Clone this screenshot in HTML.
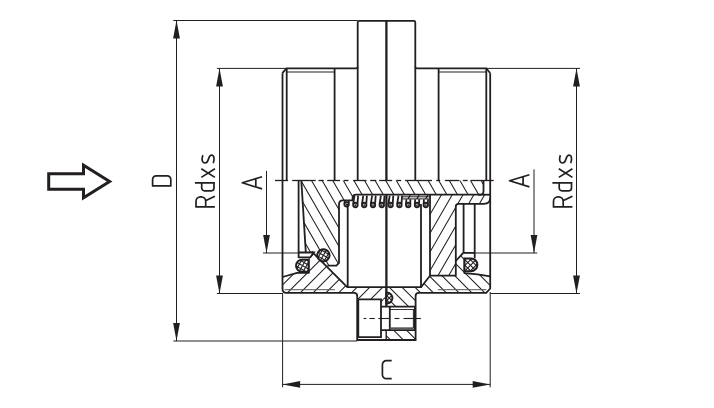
<!DOCTYPE html>
<html><head><meta charset="utf-8"><title>Valve drawing</title>
<style>html,body{margin:0;padding:0;background:#fff;width:714px;height:408px;overflow:hidden;font-family:"Liberation Sans",sans-serif} svg{display:block}</style>
</head><body>
<svg width="714" height="408" viewBox="0 0 714 408">
<defs>
<clipPath id="c1"><path d="M301.3,180.5 H483.5 V191.2 Q483.5,194.7 480,194.7 H356 Q352.6,194.7 352.6,198 V200.4 H343 Q339,200.4 339,204.4 V263 L336.4,265.6 H327.4 L316,252.5 H305.8 L305,245 Z"/></clipPath>
<clipPath id="c2"><path d="M430,194.7 H488 Q490.2,194.7 490.2,198 Q490.2,203.8 484,203.8 H458.5 Q455.8,203.8 455.8,206.5 V275.7 H430 Z"/></clipPath>
<clipPath id="c3"><path d="M282.5,277 L297,272.8 H308.6 V259 L313,253.8 L347.2,287.2 H386.2 V299.4 H357.2 V292.8 H286.5 L282.5,288.6 Z"/></clipPath>
<clipPath id="c4"><path d="M381,299.4 H386.2 V306.8 H381 Z"/></clipPath>
<clipPath id="c5"><path d="M386.2,287.2 H421 L430,275.7 H455.8 V261 L463.2,252.9 L464.5,258.4 V273.2 Q478,274 490.2,276.3 V288.5 L486.3,292.8 H415.6 V340 H386.2 Z"/></clipPath>
<clipPath id="o1a"><path d="M323.4,249.2 A6.1,6.1 0 1 1 323.39,249.2 Z"/></clipPath>
<clipPath id="o1b"><path d="M323.4,249.2 A6.1,6.1 0 1 1 323.39,249.2 Z"/></clipPath>
<clipPath id="o2a"><path d="M308.6,259.7 H302.05 A6.05,6.05 0 0 0 302.05,271.8 H308.6 Z"/></clipPath>
<clipPath id="o2b"><path d="M308.6,259.7 H302.05 A6.05,6.05 0 0 0 302.05,271.8 H308.6 Z"/></clipPath>
<clipPath id="o3a"><path d="M464.5,258.4 H471.0 A6.4,6.4 0 0 1 471.0,271.2 H464.5 Z"/></clipPath>
<clipPath id="o3b"><path d="M464.5,258.4 H471.0 A6.4,6.4 0 0 1 471.0,271.2 H464.5 Z"/></clipPath>
<clipPath id="o4a"><path d="M386.3,292.5 C390.6,292.5 392.4,295.5 392.4,298.1 C392.4,300.8 390.6,303.6 386.3,303.6 Z"/></clipPath>
<clipPath id="o4b"><path d="M386.3,292.5 C390.6,292.5 392.4,295.5 392.4,298.1 C392.4,300.8 390.6,303.6 386.3,303.6 Z"/></clipPath></defs>
<rect width="714" height="408" fill="#fff"/>
<path d="M388.19,-35.54L615.61,358.37M380.24,-30.95L607.66,362.96M372.29,-26.36L599.71,367.55M364.34,-21.77L591.76,372.14M356.39,-17.18L583.81,376.73M348.44,-12.59L575.86,381.32M340.49,-8.00L567.91,385.91M332.54,-3.41L559.96,390.50M324.59,1.18L552.01,395.09M316.64,5.77L544.06,399.68M308.69,10.36L536.11,404.27M300.74,14.95L528.16,408.86M292.79,19.54L520.21,413.45M284.84,24.13L512.26,418.04M276.89,28.72L504.31,422.63M268.94,33.31L496.36,427.22M260.99,37.90L488.41,431.81M253.04,42.49L480.46,436.40M245.09,47.08L472.51,440.99M237.14,51.67L464.56,445.58M229.19,56.26L456.61,450.17M221.24,60.85L448.66,454.76M213.29,65.44L440.71,459.35M205.34,70.03L432.76,463.94M197.39,74.62L424.81,468.53M189.44,79.21L416.86,473.12M181.49,83.80L408.91,477.71M173.54,88.39L400.96,482.30" stroke="#231f20" stroke-width="1.05" fill="none" clip-path="url(#c1)"/>
<path d="M342.34,310.27L466.36,95.47M350.44,314.95L474.46,100.14M358.54,319.63L482.56,104.82M366.64,324.30L490.66,109.50M374.74,328.98L498.76,114.17M382.84,333.65L506.86,118.85M390.94,338.33L514.96,123.53M399.04,343.01L523.06,128.20M407.14,347.68L531.16,132.88M415.24,352.36L539.26,137.56M423.34,357.04L547.36,142.23M431.44,361.71L555.46,146.91M439.54,366.39L563.56,151.59M447.64,371.07L571.66,156.26M455.74,375.74L579.76,160.94" stroke="#231f20" stroke-width="1.05" fill="none" clip-path="url(#c2)"/>
<path d="M188.03,315.47L375.47,128.03M194.43,321.87L381.87,134.43M200.83,328.27L388.27,140.83M207.23,334.67L394.67,147.23M213.63,341.07L401.07,153.63M220.03,347.47L407.47,160.03M226.43,353.87L413.87,166.43M232.83,360.27L420.27,172.83M239.23,366.67L426.67,179.23M245.63,373.07L433.07,185.63M252.03,379.47L439.47,192.03M258.43,385.87L445.87,198.43M264.83,392.27L452.27,204.83M271.23,398.67L458.67,211.23M277.63,405.07L465.07,217.63M284.03,411.47L471.47,224.03M290.43,417.87L477.87,230.43" stroke="#231f20" stroke-width="1.05" fill="none" clip-path="url(#c3)"/>
<path d="M348.94,308.16L389.16,267.94M355.34,314.56L395.56,274.34M361.74,320.96L401.96,280.74M368.14,327.36L408.36,287.14M374.54,333.76L414.76,293.54M380.94,340.16L421.16,299.94" stroke="#231f20" stroke-width="1.05" fill="none" clip-path="url(#c4)"/>
<path d="M388.07,119.02L614.98,345.93M381.65,125.45L608.55,352.35M375.22,131.87L602.13,358.78M368.80,138.30L595.70,365.20M362.37,144.72L589.28,371.63M355.95,151.15L582.85,378.05M349.52,157.57L576.43,384.48M343.10,164.00L570.00,390.90M336.67,170.42L563.58,397.33M330.25,176.85L557.15,403.75M323.82,183.27L550.73,410.18M317.40,189.70L544.30,416.60M310.97,196.12L537.88,423.03M304.55,202.55L531.45,429.45M298.12,208.97L525.03,435.88M291.70,215.40L518.60,442.30M285.27,221.82L512.18,448.73M278.85,228.25L505.75,455.15M272.42,234.67L499.33,461.58M266.00,241.10L492.90,468.00M259.57,247.52L486.48,474.43" stroke="#231f20" stroke-width="1.05" fill="none" clip-path="url(#c5)"/>
<rect x="389.8" y="306.6" width="25.1" height="23.5" fill="#fff"/>
<rect x="381" y="306.6" width="8.8" height="23.5" fill="#fff"/>
<path d="M357.7,180.5 V22.4 Q357.7,20.9 359.2,20.9 H413.8 Q415.3,20.9 415.3,22.4 V180.5" stroke="#231f20" stroke-width="1.8" fill="none" />
<path d="M386.4,20.9 V180.5" stroke="#231f20" stroke-width="2.3" fill="none" />
<path d="M386.4,194.7 V306.6" stroke="#231f20" stroke-width="2.3" fill="none" />
<path d="M386.2,330.1 V340" stroke="#231f20" stroke-width="1.4" fill="none" />
<path d="M282.3,73.2 L286.5,68.3 H356.2 Q357.7,68.3 357.7,66.8" stroke="#231f20" stroke-width="1.8" fill="none" />
<path d="M415.3,66.8 Q415.3,68.3 416.8,68.3 H486.3 L490.2,73.2" stroke="#231f20" stroke-width="1.8" fill="none" />
<path d="M286.7,68.3 V180.5" stroke="#231f20" stroke-width="1.8" fill="none" />
<path d="M334.6,68.3 V180.5" stroke="#231f20" stroke-width="1.8" fill="none" />
<path d="M438.6,68.3 V180.5" stroke="#231f20" stroke-width="1.8" fill="none" />
<path d="M486.3,68.3 V180.5" stroke="#231f20" stroke-width="1.8" fill="none" />
<line x1="286.7" y1="72" x2="334.6" y2="72" stroke="#231f20" stroke-width="1.0" />
<line x1="438.6" y1="72" x2="486.3" y2="72" stroke="#231f20" stroke-width="1.0" />
<path d="M282.5,73.2 V289 Q282.5,292.8 286.5,292.8 H354 Q357.2,292.8 357.2,296 V340 H415.6 V296 Q415.6,292.8 418.8,292.8 H486.3 L490.2,288.5 V73.2" stroke="#231f20" stroke-width="1.8" fill="none" />
<line x1="284.5" y1="289.7" x2="334.9" y2="289.7" stroke="#555" stroke-width="1.0" />
<line x1="438" y1="289.7" x2="486.3" y2="289.7" stroke="#555" stroke-width="1.0" />
<line x1="275" y1="180.5" x2="288.1" y2="180.5" stroke="#231f20" stroke-width="1.3" />
<line x1="292.2" y1="180.5" x2="315.7" y2="180.5" stroke="#231f20" stroke-width="1.3" />
<line x1="318.5" y1="180.5" x2="323.8" y2="180.5" stroke="#231f20" stroke-width="1.3" />
<line x1="327.2" y1="180.5" x2="340.1" y2="180.5" stroke="#231f20" stroke-width="1.3" />
<line x1="344" y1="180.5" x2="348.5" y2="180.5" stroke="#231f20" stroke-width="1.3" />
<line x1="353.1" y1="180.5" x2="366.5" y2="180.5" stroke="#231f20" stroke-width="1.3" />
<line x1="370.2" y1="180.5" x2="376.3" y2="180.5" stroke="#231f20" stroke-width="1.3" />
<line x1="379.1" y1="180.5" x2="392.2" y2="180.5" stroke="#231f20" stroke-width="1.3" />
<line x1="396.4" y1="180.5" x2="401.2" y2="180.5" stroke="#231f20" stroke-width="1.3" />
<line x1="405.1" y1="180.5" x2="432" y2="180.5" stroke="#231f20" stroke-width="1.3" />
<line x1="436.2" y1="180.5" x2="440.2" y2="180.5" stroke="#231f20" stroke-width="1.3" />
<line x1="444.9" y1="180.5" x2="459.2" y2="180.5" stroke="#231f20" stroke-width="1.3" />
<line x1="462.8" y1="180.5" x2="467.6" y2="180.5" stroke="#231f20" stroke-width="1.3" />
<line x1="470.7" y1="180.5" x2="493.7" y2="180.5" stroke="#231f20" stroke-width="1.3" />
<path d="M298.6,180.5 V258" stroke="#231f20" stroke-width="1.8" fill="none" />
<path d="M301.3,180.5 L305.8,252.5" stroke="#231f20" stroke-width="1.8" fill="none" />
<path d="M483.5,180.5 V191.2 Q483.5,194.7 480,194.7 H356 Q352.6,194.7 352.6,198 V200.4 H343 Q339,200.4 339,204.4 V263 L336.4,265.6 H327.4" stroke="#231f20" stroke-width="1.8" fill="none" />
<path d="M347.7,204 V287.2 H421 V204" stroke="#231f20" stroke-width="1.8" fill="none" />
<path d="M311.6,251.4 L347.2,287.2" stroke="#231f20" stroke-width="1.8" fill="none" />
<path d="M478,194.7 H490.2" stroke="#231f20" stroke-width="1.8" fill="none" />
<path d="M430,194.7 V275.7 H455.8 V206.5 Q455.8,203.8 458.5,203.8 H484 Q490.2,203.8 490.2,198" stroke="#231f20" stroke-width="1.8" fill="none" />
<path d="M421,287.2 L430,275.7" stroke="#231f20" stroke-width="1.8" fill="none" />
<path d="M463.6,203.8 V252.9" stroke="#231f20" stroke-width="1.8" fill="none" />
<path d="M474.7,203.8 V258.3" stroke="#231f20" stroke-width="1.8" fill="none" />
<path d="M463.2,252.9 H474.7" stroke="#231f20" stroke-width="1.8" fill="none" />
<path d="M455.8,261 L463.2,252.9" stroke="#231f20" stroke-width="1.8" fill="none" />
<path d="M464.5,259 V273.2 Q478,274 490.2,276.3" stroke="#231f20" stroke-width="1.8" fill="none" />
<path d="M298.6,252.5 H313.9 L310.2,257.3 H298.6" stroke="#231f20" stroke-width="1.8" fill="none" />
<path d="M308.6,259 V272.8 H297 L282.5,277" stroke="#231f20" stroke-width="1.8" fill="none" />
<path d="M323.4,249.2 A6.1,6.1 0 1 1 323.39,249.2 Z" fill="#fff"/>
<path d="M301.44,222.42L362.86,257.87M299.69,225.45L361.11,260.90M297.94,228.48L359.36,263.93M296.19,231.51L357.61,266.97M294.44,234.54L355.86,270.00M292.69,237.57L354.11,273.03M290.94,240.60L352.36,276.06M289.19,243.63L350.61,279.09M287.44,246.67L348.86,282.12M285.69,249.70L347.11,285.15M283.94,252.73L345.36,288.18" stroke="#231f20" stroke-width="1.1" fill="none" clip-path="url(#o1a)"/>
<path d="M356.28,233.34L320.83,294.76M353.25,231.59L317.80,293.01M350.22,229.84L314.77,291.26M347.19,228.09L311.73,289.51M344.16,226.34L308.70,287.76M341.13,224.59L305.67,286.01M338.10,222.84L302.64,284.26M335.07,221.09L299.61,282.51M332.03,219.34L296.58,280.76M329.00,217.59L293.55,279.01M325.97,215.84L290.52,277.26" stroke="#231f20" stroke-width="1.1" fill="none" clip-path="url(#o1b)"/>
<path d="M323.4,249.2 A6.1,6.1 0 1 1 323.39,249.2 Z" fill="none" stroke="#231f20" stroke-width="2.0"/>
<path d="M308.6,259.7 H302.05 A6.05,6.05 0 0 0 302.05,271.8 H308.6 Z" fill="#fff"/>
<path d="M280.54,232.82L341.96,268.27M278.79,235.85L340.21,271.30M277.04,238.88L338.46,274.33M275.29,241.91L336.71,277.37M273.54,244.94L334.96,280.40M271.79,247.97L333.21,283.43M270.04,251.00L331.46,286.46M268.29,254.03L329.71,289.49M266.54,257.07L327.96,292.52M264.79,260.10L326.21,295.55M263.04,263.13L324.46,298.58" stroke="#231f20" stroke-width="1.1" fill="none" clip-path="url(#o2a)"/>
<path d="M335.38,243.74L299.93,305.16M332.35,241.99L296.90,303.41M329.32,240.24L293.87,301.66M326.29,238.49L290.83,299.91M323.26,236.74L287.80,298.16M320.23,234.99L284.77,296.41M317.20,233.24L281.74,294.66M314.17,231.49L278.71,292.91M311.13,229.74L275.68,291.16M308.10,227.99L272.65,289.41M305.07,226.24L269.62,287.66" stroke="#231f20" stroke-width="1.1" fill="none" clip-path="url(#o2b)"/>
<path d="M308.6,259.7 H302.05 A6.05,6.05 0 0 0 302.05,271.8 H308.6 Z" fill="none" stroke="#231f20" stroke-width="2.0"/>
<path d="M464.5,258.4 H471.0 A6.4,6.4 0 0 1 471.0,271.2 H464.5 Z" fill="#fff"/>
<path d="M459.22,226.44L509.36,276.58M456.46,229.20L506.60,279.34M453.70,231.96L503.84,282.10M450.94,234.71L501.09,284.86M448.19,237.47L498.33,287.61M445.43,240.23L495.57,290.37M442.67,242.99L492.81,293.13M439.91,245.74L490.06,295.89M437.16,248.50L487.30,298.64M434.40,251.26L484.54,301.40M431.64,254.02L481.78,304.16" stroke="#231f20" stroke-width="1.1" fill="none" clip-path="url(#o3a)"/>
<path d="M509.36,254.02L459.22,304.16M506.60,251.26L456.46,301.40M503.84,248.50L453.70,298.64M501.09,245.74L450.94,295.89M498.33,242.99L448.19,293.13M495.57,240.23L445.43,290.37M492.81,237.47L442.67,287.61M490.06,234.71L439.91,284.86M487.30,231.96L437.16,282.10M484.54,229.20L434.40,279.34M481.78,226.44L431.64,276.58" stroke="#231f20" stroke-width="1.1" fill="none" clip-path="url(#o3b)"/>
<path d="M464.5,258.4 H471.0 A6.4,6.4 0 0 1 471.0,271.2 H464.5 Z" fill="none" stroke="#231f20" stroke-width="2.0"/>
<path d="M345.0,200.6 L344.40000000000003,203.6 M348.8,200.6 L348.70000000000005,203.4" stroke="#231f20" stroke-width="1.8" fill="none"/>
<circle cx="346.6" cy="204.3" r="2.2" fill="none" stroke="#231f20" stroke-width="1.9"/>
<circle cx="346.6" cy="204.4" r="0.95" fill="#231f20"/>
<path d="M354.50000000000006,195.6 L353.20000000000005,204 M358.1,195.6 L357.50000000000006,203.6" stroke="#231f20" stroke-width="1.8" fill="none"/>
<circle cx="355.40000000000003" cy="205" r="2.2" fill="none" stroke="#231f20" stroke-width="1.9"/>
<circle cx="355.40000000000003" cy="205.1" r="0.95" fill="#231f20"/>
<path d="M363.30000000000007,195.6 L362.00000000000006,204 M366.90000000000003,195.6 L366.30000000000007,203.6" stroke="#231f20" stroke-width="1.8" fill="none"/>
<circle cx="364.20000000000005" cy="205" r="2.2" fill="none" stroke="#231f20" stroke-width="1.9"/>
<circle cx="364.20000000000005" cy="205.1" r="0.95" fill="#231f20"/>
<path d="M372.1,195.6 L370.8,204 M375.7,195.6 L375.1,203.6" stroke="#231f20" stroke-width="1.8" fill="none"/>
<circle cx="373.0" cy="205" r="2.2" fill="none" stroke="#231f20" stroke-width="1.9"/>
<circle cx="373.0" cy="205.1" r="0.95" fill="#231f20"/>
<path d="M380.90000000000003,195.6 L379.6,204 M384.5,195.6 L383.90000000000003,203.6" stroke="#231f20" stroke-width="1.8" fill="none"/>
<circle cx="381.8" cy="205" r="2.2" fill="none" stroke="#231f20" stroke-width="1.9"/>
<circle cx="381.8" cy="205.1" r="0.95" fill="#231f20"/>
<path d="M389.70000000000005,195.6 L388.40000000000003,204 M393.3,195.6 L392.70000000000005,203.6" stroke="#231f20" stroke-width="1.8" fill="none"/>
<circle cx="390.6" cy="205" r="2.2" fill="none" stroke="#231f20" stroke-width="1.9"/>
<circle cx="390.6" cy="205.1" r="0.95" fill="#231f20"/>
<path d="M398.50000000000006,195.6 L397.20000000000005,204 M402.1,195.6 L401.50000000000006,203.6" stroke="#231f20" stroke-width="1.8" fill="none"/>
<circle cx="399.40000000000003" cy="205" r="2.2" fill="none" stroke="#231f20" stroke-width="1.9"/>
<circle cx="399.40000000000003" cy="205.1" r="0.95" fill="#231f20"/>
<path d="M406.40000000000003,199.2 L406.00000000000006,204 M410.40000000000003,199.2 L410.30000000000007,203.6" stroke="#231f20" stroke-width="1.8" fill="none"/>
<path d="M410.20000000000005,195.2 L408.00000000000006,199" stroke="#231f20" stroke-width="1.3" fill="none"/>
<circle cx="408.20000000000005" cy="205" r="2.2" fill="none" stroke="#231f20" stroke-width="1.9"/>
<circle cx="408.20000000000005" cy="205.1" r="0.95" fill="#231f20"/>
<path d="M415.2,199.2 L414.8,204 M419.2,199.2 L419.1,203.6" stroke="#231f20" stroke-width="1.8" fill="none"/>
<path d="M419.0,195.2 L416.8,199" stroke="#231f20" stroke-width="1.3" fill="none"/>
<circle cx="417.0" cy="205" r="2.2" fill="none" stroke="#231f20" stroke-width="1.9"/>
<circle cx="417.0" cy="205.1" r="0.95" fill="#231f20"/>
<path d="M424.0,199.2 L423.6,204 M428.0,199.2 L427.90000000000003,203.6" stroke="#231f20" stroke-width="1.8" fill="none"/>
<path d="M427.8,195.2 L425.6,199" stroke="#231f20" stroke-width="1.3" fill="none"/>
<circle cx="425.8" cy="205" r="2.2" fill="none" stroke="#231f20" stroke-width="1.9"/>
<circle cx="425.8" cy="205.1" r="0.95" fill="#231f20"/>
<line x1="401.5" y1="196.8" x2="430" y2="196.8" stroke="#231f20" stroke-width="1.0" />
<line x1="402.6" y1="198.9" x2="428.8" y2="198.9" stroke="#231f20" stroke-width="1.0" />
<path d="M358.3,337.2 V299.4 H381 V337.2 Z" stroke="#231f20" stroke-width="1.8" fill="none" />
<path d="M381,306.6 H414.9 V330.1 H381" stroke="#231f20" stroke-width="1.8" fill="none" />
<path d="M389.8,306.6 V330.1" stroke="#231f20" stroke-width="1.8" fill="none" />
<line x1="389.8" y1="309.5" x2="413.4" y2="309.5" stroke="#231f20" stroke-width="0.9" />
<line x1="389.8" y1="328.2" x2="413.4" y2="328.2" stroke="#5a5a5a" stroke-width="1.8" />
<line x1="413.4" y1="309" x2="413.4" y2="328.4" stroke="#231f20" stroke-width="1.0" />
<line x1="363.6" y1="318.5" x2="366.3" y2="318.5" stroke="#231f20" stroke-width="1.1" />
<line x1="369.4" y1="318.5" x2="374.8" y2="318.5" stroke="#231f20" stroke-width="1.1" />
<line x1="378.4" y1="318.5" x2="390" y2="318.5" stroke="#231f20" stroke-width="1.1" />
<line x1="394.5" y1="318.5" x2="399.4" y2="318.5" stroke="#231f20" stroke-width="1.1" />
<line x1="403.5" y1="318.5" x2="420.9" y2="318.5" stroke="#231f20" stroke-width="1.1" />
<path d="M386.3,292.5 C390.6,292.5 392.4,295.5 392.4,298.1 C392.4,300.8 390.6,303.6 386.3,303.6 Z" fill="#fff"/>
<path d="M375.90,261.26L426.04,311.40M373.56,263.60L423.70,313.74M371.23,265.93L421.37,316.07M368.90,268.26L419.04,318.40M366.56,270.60L416.70,320.74M364.23,272.93L414.37,323.07M361.90,275.26L412.04,325.40M359.56,277.60L409.70,327.74M357.23,279.93L407.37,330.07M354.90,282.26L405.04,332.40M352.56,284.60L402.70,334.74" stroke="#231f20" stroke-width="1.1" fill="none" clip-path="url(#o4a)"/>
<path d="M426.04,284.60L375.90,334.74M423.70,282.26L373.56,332.40M421.37,279.93L371.23,330.07M419.04,277.60L368.90,327.74M416.70,275.26L366.56,325.40M414.37,272.93L364.23,323.07M412.04,270.60L361.90,320.74M409.70,268.26L359.56,318.40M407.37,265.93L357.23,316.07M405.04,263.60L354.90,313.74M402.70,261.26L352.56,311.40" stroke="#231f20" stroke-width="1.1" fill="none" clip-path="url(#o4b)"/>
<path d="M386.3,292.5 C390.6,292.5 392.4,295.5 392.4,298.1 C392.4,300.8 390.6,303.6 386.3,303.6 Z" fill="none" stroke="#231f20" stroke-width="2.0"/>
<line x1="173.3" y1="20.5" x2="357.7" y2="20.5" stroke="#231f20" stroke-width="1.0" />
<line x1="173.3" y1="341" x2="357.2" y2="341" stroke="#231f20" stroke-width="1.0" />
<line x1="176.5" y1="20.5" x2="176.5" y2="341" stroke="#231f20" stroke-width="1.0" />
<polygon points="176.5,20.5 173.1,38.5 179.9,38.5" fill="#231f20"/>
<polygon points="176.5,341 173.1,323 179.9,323" fill="#231f20"/>
<line x1="216.9" y1="68.4" x2="286.5" y2="68.4" stroke="#231f20" stroke-width="1.0" />
<line x1="216.9" y1="293.5" x2="282.5" y2="293.5" stroke="#231f20" stroke-width="1.0" />
<line x1="219.5" y1="68.4" x2="219.5" y2="293.5" stroke="#231f20" stroke-width="1.0" />
<polygon points="219.5,68.4 216.1,86.4 222.9,86.4" fill="#231f20"/>
<polygon points="219.5,293.5 216.1,275.5 222.9,275.5" fill="#231f20"/>
<line x1="266.5" y1="170.8" x2="266.5" y2="253" stroke="#231f20" stroke-width="1.0" />
<polygon points="266.5,253 263.1,235 269.9,235" fill="#231f20"/>
<line x1="263" y1="253" x2="298.6" y2="253" stroke="#231f20" stroke-width="1.0" />
<line x1="534" y1="169.4" x2="534" y2="253" stroke="#231f20" stroke-width="1.0" />
<polygon points="534,253 530.6,235 537.4,235" fill="#231f20"/>
<line x1="474.7" y1="253" x2="537.2" y2="253" stroke="#231f20" stroke-width="1.0" />
<line x1="486.3" y1="68.4" x2="580" y2="68.4" stroke="#231f20" stroke-width="1.0" />
<line x1="490.2" y1="293.5" x2="580" y2="293.5" stroke="#231f20" stroke-width="1.0" />
<line x1="576.5" y1="68.4" x2="576.5" y2="293.5" stroke="#231f20" stroke-width="1.0" />
<polygon points="576.5,68.4 573.1,86.4 579.9,86.4" fill="#231f20"/>
<polygon points="576.5,293.5 573.1,275.5 579.9,275.5" fill="#231f20"/>
<line x1="282.6" y1="293" x2="282.6" y2="387.3" stroke="#231f20" stroke-width="1.0" />
<line x1="490.2" y1="292" x2="490.2" y2="387.3" stroke="#231f20" stroke-width="1.0" />
<line x1="282.6" y1="384.4" x2="490.2" y2="384.4" stroke="#231f20" stroke-width="1.0" />
<polygon points="282.6,384.4 300.1,381.09999999999997 300.1,387.7" fill="#231f20"/>
<polygon points="490.2,384.4 472.7,381.09999999999997 472.7,387.7" fill="#231f20"/>
<polygon points="48.7,173.7 83.5,173.7 83.5,165.3 109.6,181.5 83.5,197.7 83.5,189.3 48.7,189.3" fill="none" stroke="#231f20" stroke-width="3"/>
<path d="M0.9,-0.9 V-19.1 H7.4 A3.5,3.5 0 0 1 10.9,-15.6 V-4.4 A3.5,3.5 0 0 1 7.4,-0.9 Z" transform="translate(171.7,186.8) rotate(-90)" stroke="#231f20" stroke-width="1.7" fill="none" stroke-linejoin="round"/>
<path d="M0.9,0 V-18.9 H6.4 A4.5,4.5 0 0 1 10.9,-14.4 V-13.7 A4.5,4.5 0 0 1 6.4,-9.2 H0.9 M7.4,-8.9 L11.6,0" transform="translate(214.9,207.8) rotate(-90)" stroke="#231f20" stroke-width="1.7" fill="none" stroke-linejoin="round"/>
<path d="M8.8,0 V-20 M8.8,-13.2 H3.6 A2.7,2.7 0 0 0 0.9,-10.5 V-3.6 A2.7,2.7 0 0 0 3.6,-0.9 H8.8" transform="translate(214.9,191.7) rotate(-90)" stroke="#231f20" stroke-width="1.7" fill="none" stroke-linejoin="round"/>
<path d="M0.5,-13.6 L9.2,0 M0.5,0 L9.2,-13.6" transform="translate(214.9,177.9) rotate(-90)" stroke="#231f20" stroke-width="1.7" fill="none" stroke-linejoin="round"/>
<path d="M8.6,-11.9 C7.4,-12.6 6,-12.8 4.6,-12.8 C2.3,-12.8 0.9,-11.6 0.9,-9.7 C0.9,-7.7 2.4,-7.1 4.9,-6.4 C7.5,-5.7 8.8,-5 8.8,-3.3 C8.8,-1.4 7.3,-0.9 4.8,-0.9 C3.3,-0.9 1.9,-1.1 0.8,-1.7" transform="translate(214.9,163.9) rotate(-90)" stroke="#231f20" stroke-width="1.7" fill="none" stroke-linejoin="round"/>
<path d="M0.9,0 V-18.9 H6.4 A4.5,4.5 0 0 1 10.9,-14.4 V-13.7 A4.5,4.5 0 0 1 6.4,-9.2 H0.9 M7.4,-8.9 L11.6,0" transform="translate(572.4,207.8) rotate(-90)" stroke="#231f20" stroke-width="1.7" fill="none" stroke-linejoin="round"/>
<path d="M8.8,0 V-20 M8.8,-13.2 H3.6 A2.7,2.7 0 0 0 0.9,-10.5 V-3.6 A2.7,2.7 0 0 0 3.6,-0.9 H8.8" transform="translate(572.4,191.7) rotate(-90)" stroke="#231f20" stroke-width="1.7" fill="none" stroke-linejoin="round"/>
<path d="M0.5,-13.6 L9.2,0 M0.5,0 L9.2,-13.6" transform="translate(572.4,177.9) rotate(-90)" stroke="#231f20" stroke-width="1.7" fill="none" stroke-linejoin="round"/>
<path d="M8.6,-11.9 C7.4,-12.6 6,-12.8 4.6,-12.8 C2.3,-12.8 0.9,-11.6 0.9,-9.7 C0.9,-7.7 2.4,-7.1 4.9,-6.4 C7.5,-5.7 8.8,-5 8.8,-3.3 C8.8,-1.4 7.3,-0.9 4.8,-0.9 C3.3,-0.9 1.9,-1.1 0.8,-1.7" transform="translate(572.4,163.9) rotate(-90)" stroke="#231f20" stroke-width="1.7" fill="none" stroke-linejoin="round"/>
<path d="M0.5,0 L6.6,-19.8 L12.7,0 M2.5,-6.3 H10.7" transform="translate(262.1,189.4) rotate(-90)" stroke="#231f20" stroke-width="1.7" fill="none" stroke-linejoin="round"/>
<path d="M0.5,0 L6.6,-19.8 L12.7,0 M2.5,-6.3 H10.7" transform="translate(529.4,187.4) rotate(-90)" stroke="#231f20" stroke-width="1.7" fill="none" stroke-linejoin="round"/>
<path d="M10.3,-18.9 H5 A4,4 0 0 0 1,-14.9 V-4.9 A4,4 0 0 0 5,-0.9 H10.3" transform="translate(381.4,379.6) rotate(0)" stroke="#231f20" stroke-width="1.7" fill="none" stroke-linejoin="round"/>
</svg>
</body></html>
